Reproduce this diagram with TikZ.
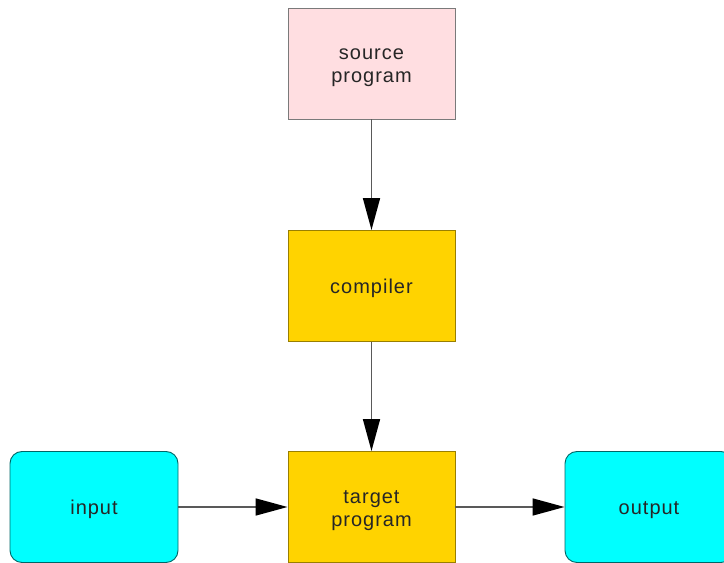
\documentclass[tikz,border=0pt]{standalone}
\usepackage{fontspec}
\setmainfont{Liberation Sans}[LetterSpace=5]
\usetikzlibrary{arrows.meta}
\definecolor{srcfill}{HTML}{FFDEE1}
\definecolor{gold}{HTML}{FFD300}
\definecolor{aqua}{HTML}{00FFFF}
\definecolor{edgegray}{HTML}{7A7A7A}
% a tall strut on the first line sets the text a little below the middle
\newcommand{\tallstrut}{\rule{0pt}{20pt}}
\tikzset{
  x=1pt, y=1pt,
  blk/.style={draw=edgegray, line width=0.9pt, minimum width=167pt, minimum height=111pt,
    inner sep=0pt, align=center, text=black!85,
    font=\fontsize{20}{23}\selectfont},
  srcbox/.style={blk, fill=srcfill},
  stagebox/.style={blk, fill=gold, draw=gold!60!black},
  iobox/.style={blk, fill=aqua, draw=aqua!40!black, rounded corners=12pt, minimum width=168pt},
  flow/.style={draw=black!65, line width=1.7pt,
    -{Triangle[length=32pt, width=17pt, fill=black, color=black]}}
}
\begin{document}
\begin{tikzpicture}
  \useasboundingbox (0,0) rectangle (724,563);
  \begin{scope}
    \clip (0,0) rectangle (724,563);
    \node[srcbox]   (src)    at (371.5,499.5) {\tallstrut source\\program};
    \node[stagebox] (comp)   at (371.5,277)   {\tallstrut compiler};
    \node[stagebox] (target) at (371.5,56)    {\tallstrut target\\program};
    \node[iobox]    (in)     at (94,56)       {\tallstrut input};
    \node[iobox]    (out)    at (649,56)      {\tallstrut output};
    \draw[flow] (src) -- (comp);
    \draw[flow] (comp) -- (target);
    \draw[flow] (in) -- (target);
    \draw[flow] (target) -- (out);
  \end{scope}
\end{tikzpicture}
\end{document}
